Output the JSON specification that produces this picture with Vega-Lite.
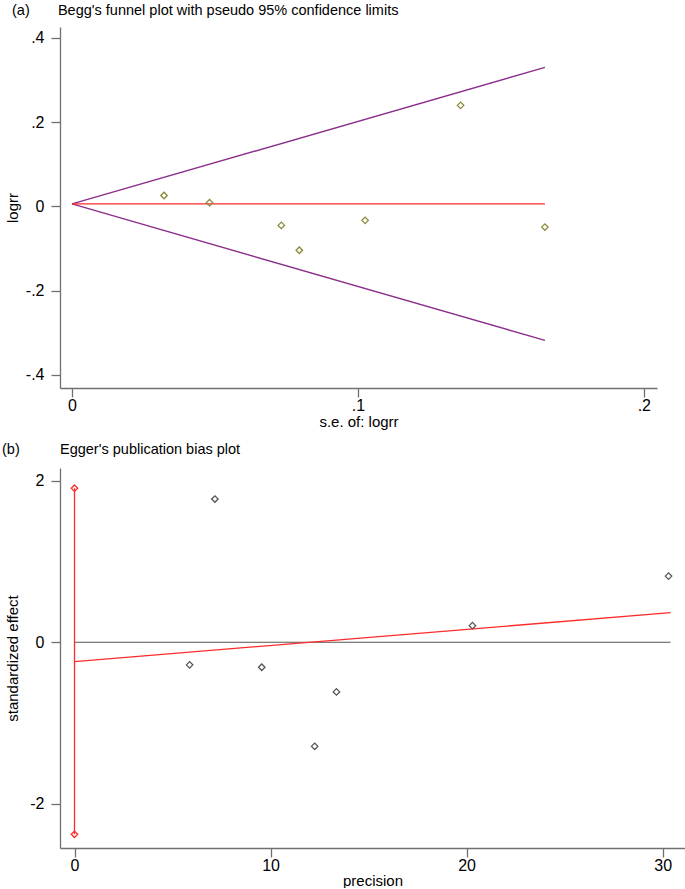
{
  "$schema": "https://vega.github.io/schema/vega-lite/v6.json",
  "padding": {"left": 2, "top": 2, "right": 0, "bottom": 0},
  "background": "white",
  "spacing": 12,
  "config": {
    "view": {"stroke": null},
    "axis": {
      "domainColor": "#707070",
      "domainWidth": 1.3,
      "tickColor": "#707070",
      "tickWidth": 1.3,
      "tickSize": 9,
      "grid": false,
      "labelFont": "Liberation Sans",
      "labelFontSize": 16,
      "labelColor": "#000000",
      "labelFlush": false,
      "labelOverlap": false,
      "titleFont": "Liberation Sans",
      "titleFontSize": 15,
      "titleFontWeight": "normal",
      "titleColor": "#000000"
    },
    "title": {
      "font": "Liberation Sans",
      "fontSize": 14.5,
      "fontWeight": "normal",
      "color": "#000000",
      "anchor": "start",
      "frame": "group"
    }
  },
  "datasets": {
    "begg_points": [
      {"se": 0.0322, "logrr": 0.026},
      {"se": 0.0481, "logrr": 0.009},
      {"se": 0.0732, "logrr": -0.045},
      {"se": 0.0795, "logrr": -0.104},
      {"se": 0.1025, "logrr": -0.033},
      {"se": 0.1359, "logrr": 0.240},
      {"se": 0.1654, "logrr": -0.049}
    ],
    "begg_funnel": [
      {"se": 0, "logrr": 0.006, "bound": "upper"},
      {"se": 0.1654, "logrr": 0.330, "bound": "upper"},
      {"se": 0, "logrr": 0.006, "bound": "lower"},
      {"se": 0.1654, "logrr": -0.318, "bound": "lower"}
    ],
    "begg_pooled": [
      {"se": 0, "logrr": 0.006},
      {"se": 0.1654, "logrr": 0.006}
    ],
    "egger_points": [
      {"precision": 5.87, "effect": -0.28},
      {"precision": 7.16, "effect": 1.775},
      {"precision": 9.55, "effect": -0.31},
      {"precision": 12.25, "effect": -1.29},
      {"precision": 13.36, "effect": -0.615},
      {"precision": 20.3, "effect": 0.206},
      {"precision": 30.3, "effect": 0.82}
    ],
    "egger_fit": [
      {"precision": 0, "effect": -0.24},
      {"precision": 30.4, "effect": 0.367}
    ],
    "egger_zero": [
      {"precision": 0, "effect": 0},
      {"precision": 30.4, "effect": 0}
    ],
    "egger_ci": [
      {"precision": 0, "lo": -2.38, "hi": 1.91}
    ],
    "egger_ci_ends": [
      {"precision": 0, "effect": -2.38},
      {"precision": 0, "effect": 1.91}
    ]
  },
  "vconcat": [
    {
      "width": 597,
      "height": 361,
      "title": {
        "text": "(a)\u00a0\u00a0\u00a0\u00a0\u00a0\u00a0\u00a0Begg's funnel plot with pseudo 95% confidence limits",
        "dx": -48,
        "offset": 9
      },
      "layer": [
        {
          "data": {"name": "begg_funnel"},
          "mark": {"type": "line", "color": "#8B2F8B", "strokeWidth": 1.4},
          "encoding": {
            "x": {
              "field": "se", "type": "quantitative",
              "scale": {"domain": [-0.0042, 0.2046], "nice": false, "zero": false},
              "axis": {
                "title": "s.e. of: logrr",
                "values": [0, 0.1, 0.2],
                "labelExpr": "replace(toString(datum.value), '0.', '.')",
                "labelPadding": 0,
                "titlePadding": 1
              }
            },
            "y": {
              "field": "logrr", "type": "quantitative",
              "scale": {"domain": [-0.431, 0.426], "nice": false, "zero": false},
              "axis": {
                "title": "logrr",
                "values": [-0.4, -0.2, 0, 0.2, 0.4],
                "labelExpr": "replace(toString(datum.value), '0.', '.')",
                "labelPadding": 7,
                "titlePadding": 5
              }
            },
            "detail": {"field": "bound"}
          }
        },
        {
          "data": {"name": "begg_pooled"},
          "mark": {"type": "line", "color": "#FF2A2A", "strokeWidth": 1.3},
          "encoding": {
            "x": {"field": "se", "type": "quantitative"},
            "y": {"field": "logrr", "type": "quantitative"}
          }
        },
        {
          "data": {"name": "begg_points"},
          "mark": {"type": "point", "shape": "diamond", "filled": false, "color": "#8A8A3A", "size": 42, "strokeWidth": 1.3, "opacity": 1},
          "encoding": {
            "x": {"field": "se", "type": "quantitative"},
            "y": {"field": "logrr", "type": "quantitative"}
          }
        }
      ]
    },
    {
      "width": 625,
      "height": 380,
      "title": {
        "text": "(b)\u00a0\u00a0\u00a0\u00a0\u00a0\u00a0\u00a0\u00a0\u00a0\u00a0Egger's publication bias plot",
        "dx": -58,
        "offset": 11
      },
      "layer": [
        {
          "data": {"name": "egger_zero"},
          "mark": {"type": "line", "color": "#555555", "strokeWidth": 1.2},
          "encoding": {
            "x": {
              "field": "precision", "type": "quantitative",
              "scale": {"domain": [-0.74, 31.14], "nice": false, "zero": false},
              "axis": {
                "title": "precision",
                "values": [0, 10, 20, 30],
                "labelExpr": "toString(datum.value)",
                "labelPadding": 0,
                "titlePadding": 0
              }
            },
            "y": {
              "field": "effect", "type": "quantitative",
              "scale": {"domain": [-2.55, 2.16], "nice": false, "zero": false},
              "axis": {
                "title": "standardized effect",
                "values": [-2, 0, 2],
                "labelExpr": "toString(datum.value)",
                "labelPadding": 7,
                "titlePadding": 9
              }
            }
          }
        },
        {
          "data": {"name": "egger_ci"},
          "mark": {"type": "rule", "color": "#FF2A2A", "strokeWidth": 1.3},
          "encoding": {
            "x": {"field": "precision", "type": "quantitative"},
            "y": {"field": "lo", "type": "quantitative"},
            "y2": {"field": "hi"}
          }
        },
        {
          "data": {"name": "egger_fit"},
          "mark": {"type": "line", "color": "#FF2A2A", "strokeWidth": 1.3},
          "encoding": {
            "x": {"field": "precision", "type": "quantitative"},
            "y": {"field": "effect", "type": "quantitative"}
          }
        },
        {
          "data": {"name": "egger_ci_ends"},
          "mark": {"type": "point", "shape": "diamond", "filled": false, "color": "#FF2A2A", "size": 42, "strokeWidth": 1.3, "opacity": 1},
          "encoding": {
            "x": {"field": "precision", "type": "quantitative"},
            "y": {"field": "effect", "type": "quantitative"}
          }
        },
        {
          "data": {"name": "egger_points"},
          "mark": {"type": "point", "shape": "diamond", "filled": false, "color": "#555555", "size": 42, "strokeWidth": 1.3, "opacity": 1},
          "encoding": {
            "x": {"field": "precision", "type": "quantitative"},
            "y": {"field": "effect", "type": "quantitative"}
          }
        }
      ]
    }
  ]
}
